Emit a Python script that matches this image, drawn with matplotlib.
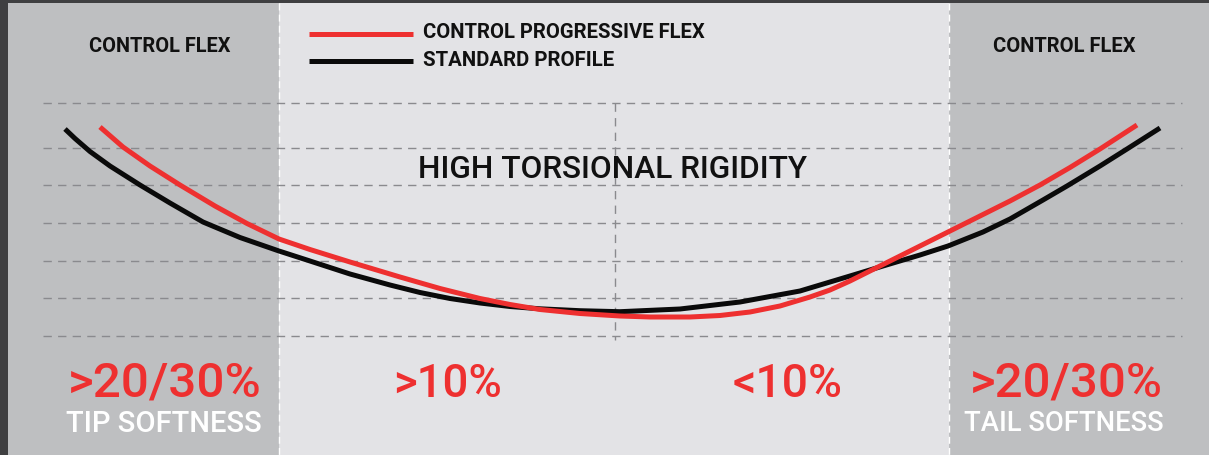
import matplotlib
matplotlib.use("Agg")
import matplotlib.pyplot as plt

# curve samples (x along the ski, y = drop, px units)
progressive_x = [100, 123, 150, 180, 215, 247, 279, 310, 350, 400, 440, 480, 510, 540, 580, 620, 650, 690, 720, 750, 780, 810, 830, 850, 880, 910, 948, 980, 1010, 1040, 1070, 1100, 1137]
progressive_y = [128, 148, 167, 186, 207, 224.5, 240, 250.5, 263, 278, 289.5, 299.5, 305.5, 310.5, 314.5, 317, 318, 318, 316.5, 313, 307, 298, 291, 282, 267, 252, 233, 217, 202, 186, 168.5, 150, 126]
standard_x = [65, 75, 90, 110, 140, 170, 203, 240, 279, 310, 350, 390, 420, 450, 480, 510, 540, 580, 620, 680, 740, 800, 850, 883, 920, 948, 983, 1010, 1043, 1067, 1100, 1127, 1160]
standard_y = [130, 139.5, 152.5, 167, 186, 204, 223, 238.5, 252, 262, 275, 286, 293.5, 299.5, 304, 307.5, 309.8, 311.7, 312.7, 310, 303, 292, 277, 267, 256, 247, 233, 220, 201, 187, 167, 150, 129]

grid_y = [104, 149, 186, 224, 262, 299, 337]
zone_edges = [8, 279, 949, 1209]

legend_labels = ["CONTROL PROGRESSIVE FLEX", "STANDARD PROFILE"]
zone_title = "CONTROL FLEX"
middle_title = "HIGH TORSIONAL RIGIDITY"
pct_labels = [">20/30%", ">10%", "<10%", ">20/30%"]
sub_labels = ["TIP SOFTNESS", "TAIL SOFTNESS"]

RED = "#ee3030"
SIDE = "#bebfc1"
MID = "#e3e3e6"
FRAME = "#3f3f41"
GRID = "#8a8a8e"
FONT = "Roboto"

fig = plt.figure(figsize=(12.09, 4.56), dpi=100)
fig.patch.set_facecolor(FRAME)
ax = fig.add_axes([0, 0, 1, 1])
ax.set_xlim(0, 1209)
ax.set_ylim(456, 0)
ax.axis("off")

# background zones
top = 1 - 4 / 456
ax.axvspan(zone_edges[0], zone_edges[1], ymin=0, ymax=top, color=SIDE, lw=0, zorder=0)
ax.axvspan(zone_edges[1], zone_edges[2], ymin=0, ymax=top, color=MID, lw=0, zorder=0)
ax.axvspan(zone_edges[2], zone_edges[3], ymin=0, ymax=top, color=SIDE, lw=0, zorder=0)
for xe in zone_edges[1:3]:
    ax.plot([xe, xe], [4, 456], color="white", lw=1.0, ls=(0, (5, 3)), zorder=1)

# grid
for gy in grid_y:
    ax.plot([43, 1182], [gy, gy], color=GRID, lw=1.0, ls=(0, (6, 4.5)), zorder=1)
ax.plot([615, 615], [grid_y[0], 341], color=GRID, lw=1.0, ls=(0, (6, 4.5)), zorder=1)

# curves
ax.plot(standard_x, standard_y, color="#0a0a0a", lw=3.6, solid_capstyle="butt", solid_joinstyle="round", zorder=3)
ax.plot(progressive_x, progressive_y, color=RED, lw=3.6, solid_capstyle="butt", solid_joinstyle="round", zorder=4)

# legend
ax.plot([309, 413], [35, 35], color=RED, lw=3.6, solid_capstyle="butt")
ax.plot([309, 413], [62, 62], color="#0a0a0a", lw=3.6, solid_capstyle="butt")

renderer = fig.canvas.get_renderer()


def put(x, y, s, width, size, color, weight, ha="center"):
    t = ax.text(x, y, s, fontsize=size, color=color, fontweight=weight, family=FONT,
                ha=ha, va="center")
    w = t.get_window_extent(renderer).width
    t.set_fontsize(size * width / w)
    return t


put(423, 32, legend_labels[0], 281, 13, "#111111", "bold", ha="left")
put(423, 60, legend_labels[1], 190, 13, "#111111", "bold", ha="left")
put(160, 47, zone_title, 141, 13, "#111111", "bold")
put(1064, 47, zone_title, 142, 13, "#111111", "bold")
put(613, 170, middle_title, 390, 24, "#111111", "medium")

put(165, 384, pct_labels[0], 194, 34, RED, "medium")
put(447, 384, pct_labels[1], 109, 34, RED, "medium")
put(788, 384, pct_labels[2], 110, 34, RED, "medium")
put(1066, 384, pct_labels[3], 193, 34, RED, "medium")
put(164, 424, sub_labels[0], 196, 19, "white", "medium")
put(1064, 424, sub_labels[1], 200, 19, "white", "medium")

fig.savefig("out.png", dpi=100, facecolor=FRAME)
